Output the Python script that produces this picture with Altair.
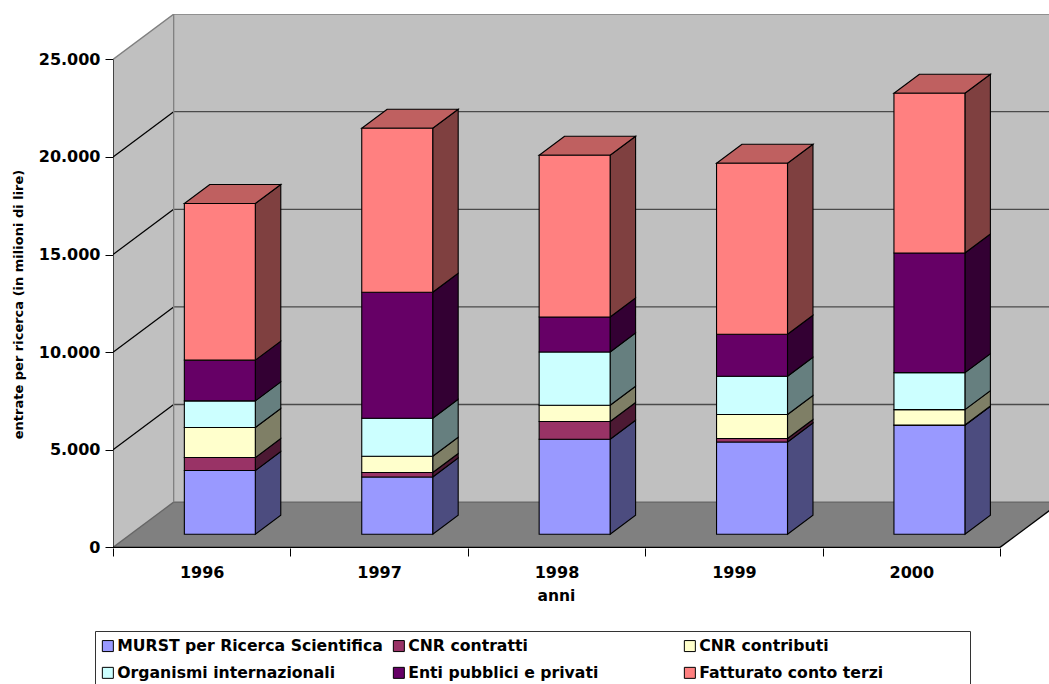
import altair as alt
import pandas as pd

years = ["1996", "1997", "1998", "1999", "2000"]
series_names = [
    "MURST per Ricerca Scientifica",
    "CNR contratti",
    "CNR contributi",
    "Organismi internazionali",
    "Enti pubblici e privati",
    "Fatturato conto terzi",
]
murst = [3263, 2936, 4867, 4729, 5584]
cnr_contratti = [666, 225, 907, 174, 15]
cnr_contributi = [1542, 835, 835, 1230, 784]
organismi = [1363, 1947, 2731, 1962, 1896]
enti = [2085, 6455, 1793, 2152, 6132]
fatturato = [8028, 8402, 8284, 8760, 8181]
series_values = [murst, cnr_contratti, cnr_contributi, organismi, enti, fatturato]

front_colors = ["#9999FF", "#993366", "#FFFFCC", "#CCFFFF", "#660066", "#FF8080"]
side_colors = ["#4C4C7F", "#4C1933", "#7F7F66", "#667F7F", "#330033", "#7F4040"]
top_color = "#BF6060"
y_ticks = [0, 5000, 10000, 15000, 20000, 25000]

# Oblique projection: one unit of depth moves a point right (in category
# units) and up (in value units).
DEPTH_X = 0.342
DEPTH_Y = 2320
BAR_WIDTH = 0.40
BAR_NUDGE = 0.003
BAR_DEPTH_START = 0.29
BAR_DEPTH_END = 0.71
X_MAX = 936 / 177.4
Y_MIN = -31
Y_MAX = Y_MIN + 534 / 488 * 25000
N = len(years)

front_rows, side_rows, top_rows = [], [], []
for c in range(N):
    left = c + 0.5 - BAR_WIDTH / 2 + BAR_DEPTH_START * DEPTH_X + BAR_NUDGE
    right = left + BAR_WIDTH
    base = BAR_DEPTH_START * DEPTH_Y
    step_x = (BAR_DEPTH_END - BAR_DEPTH_START) * DEPTH_X
    step_y = (BAR_DEPTH_END - BAR_DEPTH_START) * DEPTH_Y
    level = base
    for s, name in enumerate(series_names):
        upper = level + series_values[s][c]
        front_rows.append(dict(series=name, x=left, x2=right, y=level, y2=upper))
        face = f"{c}-{s}"
        side_rows.append(dict(face=face, fill=side_colors[s], x=right, y=level, y2=upper))
        side_rows.append(dict(face=face, fill=side_colors[s], x=right + step_x,
                              y=level + step_y, y2=upper + step_y))
        level = upper
    top_rows.append(dict(face=c, y=level, x=left, x2=right))
    top_rows.append(dict(face=c, y=level + step_y, x=left + step_x, x2=right + step_x))

front = pd.DataFrame(front_rows)
sides = pd.DataFrame(side_rows)
tops = pd.DataFrame(top_rows)

# Ticks on category edges, year names midway between them
axis_ticks = [i / 2 for i in range(2 * N + 1)]
year_array = "[" + ",".join(f"'{y}'" for y in years) + "]"
x_axis = alt.Axis(
    values=axis_ticks, title="anni", domain=False, grid=False, tickColor="black", tickSize=8,
    tickOpacity=alt.ExprRef("datum.value % 1 ? 0 : 1"),
    labelExpr=f"datum.value % 1 ? {year_array}[floor(datum.value)] : ''",
    labelAngle=0, labelFont="DejaVu Sans", labelFontWeight="bold", labelFontSize=16,
    labelColor="black", labelPadding=8, labelOverlap=False, labelFlush=False,
    titleFont="DejaVu Sans", titleFontWeight="bold", titleFontSize=15.5, titleColor="black",
    titleX=443, titleY=40,
)
y_axis = alt.Axis(
    values=y_ticks, title="entrate per ricerca (in milioni di lire)", domain=False, grid=False,
    tickColor="black", tickSize=8, labelPadding=5,
    labelExpr="replace(format(datum.value, ','), ',', '.')",
    labelFont="DejaVu Sans", labelFontWeight="bold", labelFontSize=16, labelColor="black",
    labelOverlap=False,
    titleFont="DejaVu Sans", titleFontWeight="bold", titleFontSize=13, titleColor="black",
    titleX=-88, titleY=290,
)
x_plain = alt.X("x:Q", scale=alt.Scale(domain=[0, X_MAX], nice=False, zero=False), axis=x_axis)
y_plain = alt.Y("y:Q", scale=alt.Scale(domain=[Y_MIN, Y_MAX], nice=False, zero=False), axis=y_axis, stack=None)

# Chart box: back wall, left wall and floor
back_wall = alt.Chart(pd.DataFrame([dict(x=DEPTH_X, x2=X_MAX, y=DEPTH_Y, y2=25000 + DEPTH_Y)])).mark_rect(
    fill="#C0C0C0", clip=True
).encode(x=x_plain, x2="x2:Q", y=y_plain, y2="y2:Q")

left_wall = alt.Chart(pd.DataFrame([
    dict(x=0, y=0, y2=25000),
    dict(x=DEPTH_X, y=DEPTH_Y, y2=25000 + DEPTH_Y),
])).mark_area(fill="#C0C0C0").encode(x=x_plain, y=y_plain, y2="y2:Q")

floor = alt.Chart(pd.DataFrame([
    dict(y=0, x=0, x2=N),
    dict(y=DEPTH_Y, x=DEPTH_X, x2=N + DEPTH_X),
])).mark_area(fill="#808080", orient="horizontal", clip=True).encode(x=x_plain, x2="x2:Q", y=y_plain)

# Grid and box edges
edge_rows = []
def edge(name, colour, x0, y0, x1, y1):
    edge_rows.append(dict(edge=name, colour=colour, x=x0, y=y0))
    edge_rows.append(dict(edge=name, colour=colour, x=x1, y=y1))

for v in y_ticks[1:-1]:
    edge(f"back{v}", "#4A4A4A", DEPTH_X, v + DEPTH_Y, X_MAX + 0.1, v + DEPTH_Y)
    edge(f"side{v}", "#000000", 0, v, DEPTH_X, v + DEPTH_Y)
edge("backtop", "#808080", DEPTH_X, 25000 + DEPTH_Y, X_MAX + 0.1, 25000 + DEPTH_Y)
edge("backbase", "#666666", DEPTH_X, DEPTH_Y, X_MAX + 0.1, DEPTH_Y)
edge("sidetop", "#808080", 0, 25000, DEPTH_X, 25000 + DEPTH_Y)
edge("sidebase", "#666666", 0, 0, DEPTH_X, DEPTH_Y)
edge("corner", "#808080", DEPTH_X, DEPTH_Y, DEPTH_X, 25000 + DEPTH_Y)
edge("value axis", "#000000", 0, 0, 0, 25000)
edge("front", "#000000", 0, 0, N, 0)
edge("floor right", "#000000", N, 0, N + DEPTH_X, DEPTH_Y)

edges = alt.Chart(pd.DataFrame(edge_rows)).mark_line(strokeWidth=1.3, clip=True).encode(
    x=x_plain, y=y_plain, detail="edge:N",
    color=alt.Color("colour:N", scale=None),
)

# Three faces of every stacked block
side_faces = alt.Chart(sides).mark_area(stroke="black", strokeWidth=1.1).encode(
    x=x_plain, y=y_plain, y2="y2:Q", detail="face:N",
    color=alt.Color("fill:N", scale=None),
)

top_faces = alt.Chart(tops).mark_area(
    orient="horizontal", fill=top_color, stroke="black", strokeWidth=1.1
).encode(x=x_plain, x2="x2:Q", y=y_plain, detail="face:N")

front_faces = alt.Chart(front).mark_rect(stroke="black", strokeWidth=1.1).encode(
    x=x_plain, x2="x2:Q", y=y_plain, y2="y2:Q",
    color=alt.Color(
        "series:N",
        scale=alt.Scale(domain=series_names, range=front_colors),
        sort=series_names,
        legend=alt.Legend(
            title=None, orient="none", legendX=-18, legendY=617, columns=3,
            direction="horizontal", gridAlign="all", columnPadding=8, rowPadding=10,
            padding=7,
            symbolType="square", symbolSize=121, symbolStrokeColor="black",
            symbolStrokeWidth=1, symbolOffset=-2, labelOffset=1.5, labelLimit=400,
            labelFont="DejaVu Sans", labelFontWeight="bold", labelFontSize=15.7,
            labelColor="black",
        ),
    ),
)

# Frame around the legend, running off the lower edge of the page
legend_frame = alt.Chart(pd.DataFrame({"frame": [0]})).mark_rect(
    fillOpacity=0, stroke="#333333", strokeWidth=1
).encode(x=alt.value(-17.5), x2=alt.value(857.5), y=alt.value(617.5), y2=alt.value(690))

chart = alt.layer(
    back_wall, left_wall, floor, edges, side_faces, top_faces, front_faces, legend_frame
).properties(
    width=936, height=534,
    autosize=alt.AutoSizeParams(type="none"),
    padding={"left": 113, "top": 14, "right": 0, "bottom": 136},
    background="white",
).configure_view(stroke=None)

chart.save("out.html", embed_options={"renderer": "svg", "actions": False})
